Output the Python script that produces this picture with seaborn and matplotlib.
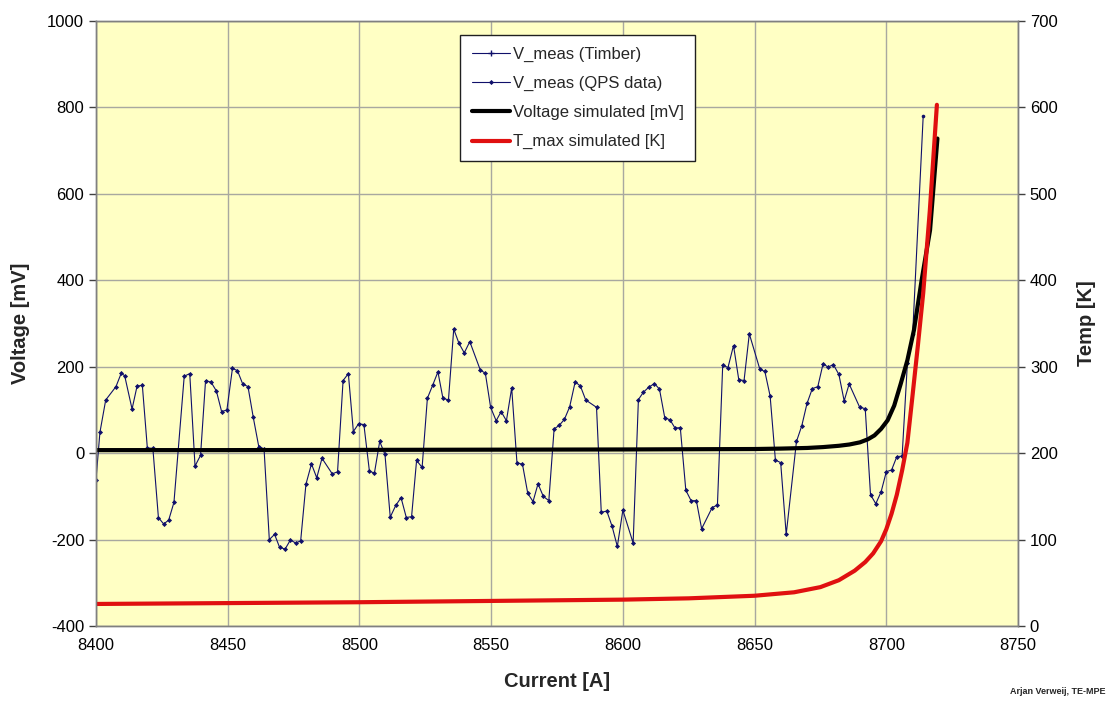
import matplotlib
matplotlib.use("Agg")
import matplotlib.pyplot as plt
import seaborn as sns
from matplotlib.lines import Line2D

# Данные
qps_current = [8400, 8401.5, 8403.7, 8407.6, 8409.6, 8410.9, 8413.7, 8415.6, 8417.6, 8419.5,
               8421.6, 8423.7, 8425.7, 8427.6, 8429.6, 8433.5, 8435.6, 8437.6, 8439.7, 8441.6,
               8443.7, 8445.7, 8447.7, 8449.7, 8451.8,
               8453.7, 8455.7, 8457.7, 8459.7, 8461.8, 8463.8, 8465.8, 8467.8, 8469.7, 8471.8,
               8473.8, 8475.8, 8477.7, 8479.7, 8481.8, 8483.8, 8485.8, 8489.7, 8491.7, 8493.8,
               8495.8, 8497.7, 8499.7, 8501.7, 8503.8,
               8505.7, 8507.7, 8509.7, 8511.7, 8513.8, 8515.8, 8517.8, 8519.8, 8521.7, 8523.8,
               8525.8, 8527.8, 8529.8, 8531.7, 8533.8, 8535.8, 8537.8, 8539.8, 8541.9, 8545.9,
               8547.8, 8549.8, 8551.9, 8553.8,
               8555.8, 8557.8, 8559.8, 8561.9, 8563.9, 8565.9, 8567.8, 8569.8, 8571.9, 8573.9,
               8575.8, 8577.8, 8579.8, 8581.9, 8583.9, 8585.9, 8590.0, 8591.8, 8593.9, 8595.9,
               8597.9, 8600.0, 8603.9, 8605.9,
               8607.8, 8609.9, 8612.0, 8613.9, 8615.9, 8617.9, 8619.8, 8621.8, 8623.9, 8625.9,
               8627.9, 8629.9, 8633.9, 8635.9, 8637.9, 8639.9, 8642.0, 8644.0, 8646.0, 8648.0,
               8652.0, 8653.9, 8655.9, 8657.9,
               8659.9, 8662.0, 8665.9, 8667.9, 8669.9, 8671.9, 8674.0, 8676.0, 8677.9, 8679.9,
               8682.0, 8684.0, 8685.9, 8689.9, 8692.0, 8694.0, 8696.0, 8698.0, 8700.0, 8702.0,
               8704.0, 8706.0, 8708.0]
qps_voltage = [-62, 48, 123, 154, 185, 179, 102, 155, 157, 12,
               11, -149, -164, -155, -114, 178, 184, -30, -5, 168,
               164, 144, 96, 100, 196,
               191, 160, 154, 83, 15, 10, -200, -188, -218, -222,
               -201, -208, -203, -72, -25, -57, -12, -48, -43, 168,
               184, 50, 68, 66, -42,
               -46, 27, -3, -148, -121, -103, -149, -147, -17, -33,
               127, 157, 188, 127, 123, 287, 254, 232, 258, 192,
               185, 106, 75, 96,
               75, 151, -22, -26, -93, -112, -71, -100, -110, 56,
               64, 78, 107, 165, 155, 123, 106, -137, -134, -169,
               -216, -132, -208, 124,
               141, 153, 161, 148, 82, 77, 58, 59, -86, -110,
               -110, -175, -126, -120, 204, 198, 249, 170, 168, 276,
               194, 189, 132, -16,
               -22, -188, 27, 63, 115, 149, 154, 207, 199, 205,
               182, 121, 160, 106, 103, -96, -117, -90, -43, -39,
               -8, -7, 208]

timber_current = [8708.0, 8710.0, 8714.0]
timber_voltage = [208, 275, 780]

vsim_current = [8400, 8450, 8500, 8550, 8600, 8625, 8650, 8660, 8670, 8676, 8682, 8686,
                8690, 8693, 8695.5, 8698, 8700.5, 8703, 8705.5, 8708, 8710.5, 8713.4,
                8716.6, 8719.4]
vsim_voltage = [7, 7, 7.5, 8, 8.5, 9, 9.5, 10.5, 12, 14, 17, 20,
                25, 32, 41, 56, 76, 110, 161, 215, 285, 400,
                516, 728]

tsim_current = [8400, 8450, 8500, 8550, 8600, 8625, 8650, 8665, 8675, 8682, 8688, 8692,
                8695, 8698, 8700, 8702, 8704, 8706, 8708, 8710, 8712, 8714, 8716.5, 8719.2]
tsim_temp = [25.5, 26.5, 27.5, 29, 30.5, 32, 35, 39, 45, 53, 64, 74,
             84, 98, 112, 130, 152, 180, 212, 268, 325, 385, 480, 603]

x_ticks = [8400, 8450, 8500, 8550, 8600, 8650, 8700, 8750]
v_ticks = [-400, -200, 0, 200, 400, 600, 800, 1000]
t_ticks = [0, 100, 200, 300, 400, 500, 600, 700]

sns.set_style("white")
plt.rcParams['font.family'] = ['Liberation Sans', 'DejaVu Sans']
plt.rcParams['axes.unicode_minus'] = False

navy = '#10106a'

fig = plt.figure(figsize=(11.12, 7.04), dpi=100)
ax = fig.add_axes([0.0863, 0.1108, 0.8292, 0.8594])
ax.set_facecolor('#ffffc4')

# Измеренные напряжения
sns.lineplot(x=qps_current, y=qps_voltage, ax=ax, color=navy, linewidth=0.8,
             marker='D', markersize=2.6, markeredgewidth=0, sort=False, estimator=None)
sns.lineplot(x=timber_current, y=timber_voltage, ax=ax, color=navy, linewidth=0.8,
             marker='o', markersize=2.6, markeredgewidth=0, sort=False, estimator=None)
# Смоделированное напряжение
sns.lineplot(x=vsim_current, y=vsim_voltage, ax=ax, color='black', linewidth=3,
             sort=False, estimator=None)

ax.set_xlim(8400, 8750)
ax.set_ylim(-400, 1000)
ax.set_xticks(x_ticks)
ax.set_yticks(v_ticks)
ax.grid(True, color='#a8a8a0', linewidth=1)
ax.set_axisbelow(True)

# Правая ось — температура
ax2 = ax.twinx()
sns.lineplot(x=tsim_current, y=tsim_temp, ax=ax2, color='#e01010', linewidth=3,
             sort=False, estimator=None)
ax2.set_ylim(0, 700)
ax2.set_yticks(t_ticks)

for a in (ax, ax2):
    for s in a.spines.values():
        s.set_color('#808080')
        s.set_linewidth(1)
    a.tick_params(axis='both', direction='out', length=5, width=1, color='#404040',
                  labelsize=12, labelcolor='black')

ax.set_xlabel('Current [A]', fontsize=14.5, fontweight='bold', labelpad=14)
ax.set_ylabel('Voltage [mV]', fontsize=14.5, fontweight='bold', labelpad=12)
ax2.set_ylabel('Temp [K]', fontsize=14.5, fontweight='bold', labelpad=14)

handles = [
    Line2D([], [], color=navy, linewidth=0.8, marker='+', markersize=4),
    Line2D([], [], color=navy, linewidth=0.8, marker='D', markersize=2.6, markeredgewidth=0),
    Line2D([], [], color='black', linewidth=3),
    Line2D([], [], color='#e01010', linewidth=3),
]
labels = ['V_meas (Timber)', 'V_meas (QPS data)', 'Voltage simulated [mV]', 'T_max simulated [K]']
leg = ax2.legend(handles, labels, loc='upper left', bbox_to_anchor=(0.395, 0.977),
                 fontsize=12, frameon=True, fancybox=False, framealpha=1,
                 edgecolor='#202020', handlelength=2.3, handletextpad=0.15,
                 labelspacing=0.85, borderpad=0.7, borderaxespad=0)
leg.get_frame().set_linewidth(1)

fig.text(0.994, 0.012, 'Arjan Verweij, TE-MPE', fontsize=6.5, fontweight='bold',
         ha='right', va='bottom')

fig.savefig('out.png', dpi=100, facecolor='white')
